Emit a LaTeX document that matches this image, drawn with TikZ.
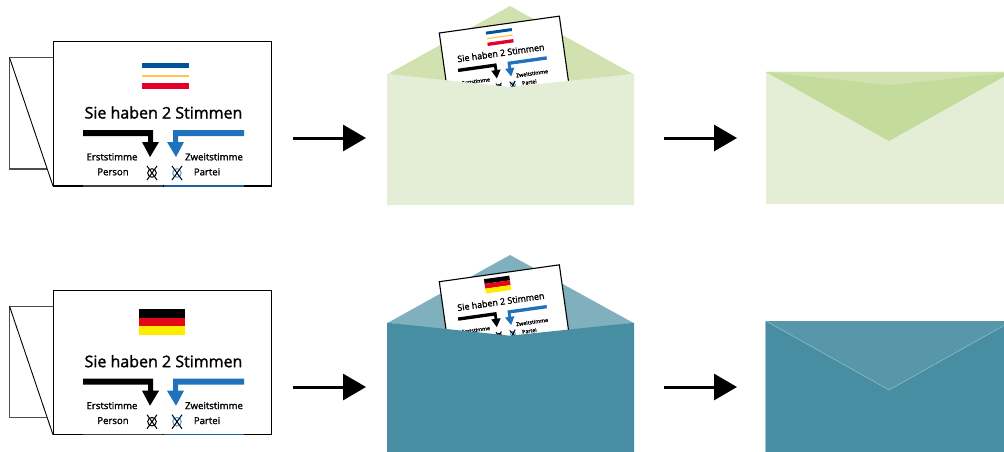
\documentclass[tikz,border=0pt]{standalone}
\usepackage{fontspec}
\setmainfont[FakeBold=1.6]{Open Sans}
\usetikzlibrary{arrows.meta}
\definecolor{mvblue}{HTML}{00529B}
\definecolor{mvyellow}{HTML}{FFC84A}
\definecolor{mvred}{HTML}{E4002B}
\definecolor{deblack}{HTML}{000000}
\definecolor{dered}{HTML}{E30613}
\definecolor{deyellow}{HTML}{FFED00}
\definecolor{votblue}{HTML}{1F72BB}
\definecolor{ringblue}{HTML}{4F9FDC}
\definecolor{greenfront}{HTML}{E4EED7}
\definecolor{greenflap}{HTML}{D1E2B0}
\definecolor{greendark}{HTML}{C4DC9B}
\definecolor{tealfront}{HTML}{478EA3}
\definecolor{tealflap}{HTML}{80AFBD}
\definecolor{teallight}{HTML}{5897A9}
\tikzset{
  x=1pt,y=-1pt,
  paper/.style={draw=black,line width=1.1pt,fill=white},
  backline/.style={draw=black!70,line width=1.2pt},
  flowarrow/.style={draw=black,line width=3pt,-{Triangle[length=23pt,width=26pt]},shorten >=0pt},
  heading/.style={font=\fontsize{16}{18}\selectfont,inner sep=0pt,transform shape,anchor=center},
  votelabel/.style={font=\fontsize{9.6}{10}\selectfont,inner sep=0pt,transform shape,anchor=center},
  cross/.style={line width=1pt,draw=black},
}
\newcommand{\flagMV}{%
  \fill[mvblue] (88.5,21.3) rectangle (135.5,26.6);
  \fill[mvyellow] (88.5,33) rectangle (135.5,35);
  \fill[mvred] (88.5,41.3) rectangle (135.5,47.3);}
\newcommand{\flagDE}{%
  \fill[deblack] (85.5,18.7) rectangle (131.5,27.2);
  \fill[dered] (85.5,27.2) rectangle (131.5,35.9);
  \fill[deyellow] (85.5,35.9) rectangle (131.5,44.7);}
% #1 name prefix
\newcommand{\ballotmarks}[1]{%
  \node[heading] (#1title) at (110,70.8) {Sie haben 2 Stimmen};
  \fill[black] (29.5,88.3)--(99.5,88.3)--(99.5,100.3)--(105.5,100.3)--(96.5,115.3)--(88.5,100.3)--(94.5,100.3)--(94.5,94.3)--(29.5,94.3)--cycle;
  \fill[votblue] (190.5,88.3)--(119.5,88.3)--(119.5,100.3)--(113.5,100.3)--(122.5,115.3)--(130.5,100.3)--(124.5,100.3)--(124.5,94.3)--(190.5,94.3)--cycle;
  \node[votelabel] (#1first) at (58.5,115.2) {Erststimme};
  \node[votelabel] (#1person) at (59.5,130.2) {Person};
  \node[votelabel] (#1second) at (160.5,115.2) {Zweitstimme};
  \node[votelabel] (#1party) at (153.5,130.2) {Partei};
  \draw[cross] (98.5,131.3) circle[radius=4.3];
  \draw[cross] (93.5,124.3)--(103.5,138.3) (103.5,124.3)--(93.5,138.3);
  \draw[cross,draw=ringblue] (123.5,131.3) circle[radius=4.3];
  \draw[cross] (118.5,124.3)--(128.5,138.3) (128.5,124.3)--(118.5,138.3);}
% #1 prefix, #2 flag macro, #3 y shift
\newcommand{\fullballot}[3]{%
  \begin{scope}[yshift=-#3pt]
    \draw[backline] (53,57.5)--(9.5,57.5)--(9.5,169)--(47,169);
    \draw[black,line width=.9pt] (9.5,57.5)--(53,186);
    \draw[paper] (53.5,41.7) rectangle (271.5,186);
    \begin{scope}[shift={(53.5,41.7)}]
      #2
      \ballotmarks{#1}
    \end{scope}
    \draw[black!75,line width=1.3pt] (83,186)--(163,186);
    \draw[votblue!85!black,line width=1.3pt] (164,186)--(244,186);
  \end{scope}}
% #1 prefix, #2 flag macro, #3 y shift
\newcommand{\miniballot}[3]{%
  \begin{scope}[yshift=-#3pt]
    \begin{scope}[shift={(439.3,33)},rotate=8,scale=.556]
      \draw[draw=black,line width=1.1pt,fill=white] (0,0) rectangle (218,145);
      \begin{scope}[shift={(-5.4,-12)}] #2 \end{scope}
      \begin{scope}[shift={(-5.4,-20)}] \ballotmarks{#1} \end{scope}
    \end{scope}
  \end{scope}}
\begin{document}
\begin{tikzpicture}
\useasboundingbox (0,0) rectangle (1004,452);
\clip (0,0) rectangle (1004,452);
% row 1
\fill[greenflap] (388,74)--(510,6)--(633,74)--(510,90)--cycle;
\miniballot{tb}{\flagMV}{0}
\fill[greenfront] (387,74)--(510,87)--(634,74)--(634,205)--(387,205)--cycle;
\fullballot{ta}{\flagMV}{0}
\fill[greenfront] (766,72) rectangle (1004,204);
\fill[greendark] (766,72)--(889,141)--(1004,76.5)--(1004,72)--cycle;
\fill[greenflap] (766,72)--(889,85)--(1004,73)--(1004,72)--cycle;
% row 2
\fill[tealflap] (388,322.7)--(510,255)--(633,322.7)--(510,339)--cycle;
\miniballot{bb}{\flagDE}{248.7}
\fill[tealfront] (387,322.7)--(510,335.7)--(634,322.7)--(634,452)--(387,452)--cycle;
\fullballot{ba}{\flagDE}{248.7}
\fill[tealfront] (765.5,321) rectangle (1004,452);
\fill[teallight] (766,321)--(889,390)--(1004,325.5)--(1004,321)--cycle;
\draw[white!45!tealfront,line width=.5pt] (766,321)--(889,390)--(1004,325.5);
\draw[white!45!tealfront,line width=.7pt] (765.8,321)--(765.8,452);
% arrows
\coordinate (s1) at (293,138); \coordinate (e1) at (366,138);
\coordinate (s2) at (664,138); \coordinate (e2) at (737,138);
\coordinate (s3) at (293,387); \coordinate (e3) at (366,387);
\coordinate (s4) at (664,387); \coordinate (e4) at (737,387);
\draw[flowarrow] (s1)--(e1);
\draw[flowarrow] (s2)--(e2);
\draw[flowarrow] (s3)--(e3);
\draw[flowarrow] (s4)--(e4);
\end{tikzpicture}
\end{document}
